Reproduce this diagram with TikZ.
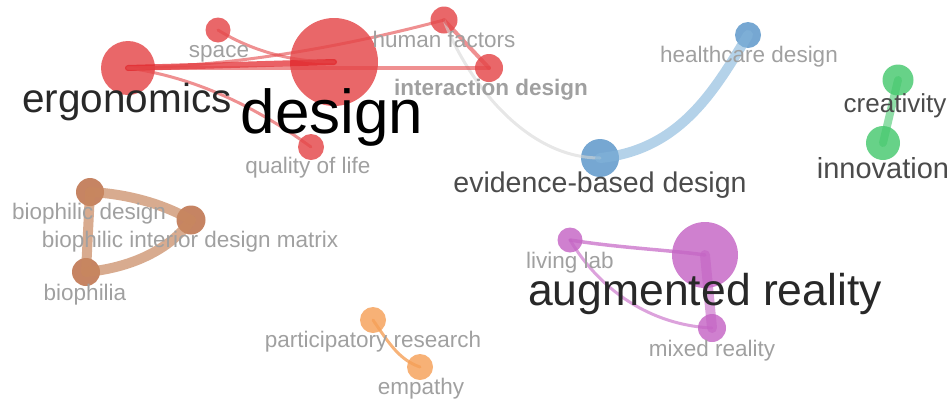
\documentclass[tikz,border=0pt]{standalone}
\usepackage{fontspec}
\setmainfont{Liberation Sans}
\definecolor{cred}{RGB}{228,70,72}
\definecolor{credge}{RGB}{225,30,35}
\definecolor{cblue}{RGB}{88,148,200}
\definecolor{cblueedge}{RGB}{130,180,218}
\definecolor{cgreen}{RGB}{70,200,110}
\definecolor{cbrown}{RGB}{185,105,65}
\definecolor{cbrownedge}{RGB}{200,135,95}
\definecolor{corange}{RGB}{245,160,88}
\definecolor{cpurple}{RGB}{196,100,196}
\definecolor{cgrayedge}{RGB}{215,215,215}
\definecolor{labgray}{RGB}{160,160,160}
\definecolor{labdark}{RGB}{40,40,40}
\definecolor{labmid}{RGB}{75,75,75}
\begin{document}
\begin{tikzpicture}[x=1pt,y=-1pt,
  kw/.style={circle, inner sep=0pt, draw=none, fill opacity=0.82},
  lab/.style={anchor=base, inner sep=0pt, text=labgray, font=\fontsize{22.5}{22.5}\selectfont},
  edge/.style={draw opacity=0.6, line cap=round},
]
\useasboundingbox (0,0) rectangle (952,400);
% ---------- red cluster ----------
\node[kw, fill=cred, minimum size=54pt] (ergo) at (128,68) {};
\node[kw, fill=cred, minimum size=88pt] (design) at (334,62) {};
\node[kw, fill=cred, minimum size=25pt] (space) at (218,30) {};
\node[kw, fill=cred, minimum size=27pt] (human) at (444,20) {};
\node[kw, fill=cred, minimum size=28pt] (inter) at (489,68) {};
\node[kw, fill=cred, minimum size=26pt] (qol) at (311,147) {};
% ---------- blue ----------
\node[kw, fill=cblue, minimum size=26pt] (health) at (748,35) {};
\node[kw, fill=cblue, minimum size=38pt] (ebd) at (600,158) {};
% ---------- green ----------
\node[kw, fill=cgreen, minimum size=31pt] (creat) at (898,80) {};
\node[kw, fill=cgreen, minimum size=34pt] (innov) at (883,143) {};
% ---------- brown ----------
\node[kw, fill=cbrown, minimum size=28pt] (biod) at (90,192) {};
\node[kw, fill=cbrown, minimum size=29pt] (bidm) at (191,220) {};
\node[kw, fill=cbrown, minimum size=28pt] (biop) at (86,272) {};
% ---------- orange ----------
\node[kw, fill=corange, minimum size=26pt] (part) at (373,320) {};
\node[kw, fill=corange, minimum size=26pt] (emp) at (420,367) {};
% ---------- purple ----------
\node[kw, fill=cpurple, minimum size=25pt] (living) at (570,240) {};
\node[kw, fill=cpurple, minimum size=66pt] (ar) at (705,255) {};
\node[kw, fill=cpurple, minimum size=28pt] (mixed) at (712,328) {};

% ---------- edges ----------
\draw[edge, cgrayedge, line width=3pt] (human.center) .. controls (462,70) and (520,158) .. (ebd.center);
\draw[edge, credge, line width=6pt, draw opacity=0.7] (ergo.center) -- (design.center);
\draw[edge, cred, line width=4pt] (ergo.center) -- (inter.center);
\draw[edge, cred, line width=3pt] (ergo.center) .. controls (240,66) and (350,45) .. (human.center);
\draw[edge, cred, line width=3pt] (space.center) .. controls (250,50) and (290,62) .. (design.center);
\draw[edge, cred, line width=3pt] (ergo.center) .. controls (200,78) and (260,110) .. (qol.center);
\draw[edge, cred, line width=4pt] (human.center) -- (inter.center);
\draw[edge, cblueedge, line width=10pt] (ebd.center) .. controls (680,150) and (715,90) .. (health.center);
\draw[edge, cgreen, line width=8pt] (creat.center) -- (innov.center);
\draw[edge, cbrownedge, line width=10pt, draw opacity=0.7] (biod.center) .. controls (130,194) and (165,205) .. (bidm.center);
\draw[edge, cbrownedge, line width=10pt, draw opacity=0.7] (biod.center) -- (biop.center);
\draw[edge, cbrownedge, line width=10pt, draw opacity=0.7] (biop.center) .. controls (130,268) and (170,250) .. (bidm.center);
\draw[edge, corange, line width=3pt, draw opacity=0.8] (part.center) .. controls (390,345) and (400,360) .. (emp.center);
\draw[edge, cpurple, line width=3.5pt, draw opacity=0.7] (living.center) .. controls (620,248) and (670,250) .. (ar.center);
\draw[edge, cpurple, line width=3pt] (living.center) .. controls (600,290) and (650,325) .. (mixed.center);
\draw[edge, cpurple, line width=10pt] (ar.center) -- (mixed.center);

% ---------- labels ----------
\node[lab, text=labdark, font=\fontsize{40.5}{40.5}\selectfont] (lergo) at (127,112) {ergonomics};
\node[lab, text=black, font=\fontsize{62}{62}\selectfont] (ldesign) at (332,133) {design};
\node[lab] (lspace) at (219,57) {space};
\node[lab] (lhuman) at (444,47) {human factors};
\node[lab, font=\bfseries\fontsize{22.5}{22.5}\selectfont] (linter) at (491,95) {interaction design};
\node[lab] (lqol) at (308,173) {quality of life};
\node[lab] (lhealth) at (749,62) {healthcare design};
\node[lab, text=labmid, font=\fontsize{28.5}{28.5}\selectfont] (lebd) at (600,192) {evidence-based design};
\node[lab, text=labmid, font=\fontsize{26}{26}\selectfont] (lcreat) at (895,112) {creativity};
\node[lab, text=labmid, font=\fontsize{29}{29}\selectfont] (linnov) at (883,178) {innovation};
\node[lab] (lbiod) at (89,219) {biophilic design};
\node[lab] (lbidm) at (190,247) {biophilic interior design matrix};
\node[lab] (lbiop) at (85,300) {biophilia};
\node[lab] (lpart) at (373,347) {participatory research};
\node[lab] (lemp) at (421,394) {empathy};
\node[lab] (lliving) at (570,268) {living lab};
\node[lab, text=labdark, font=\fontsize{44.5}{44.5}\selectfont] (lar) at (705,305) {augmented reality};
\node[lab] (lmixed) at (712,356) {mixed reality};
\end{tikzpicture}
\end{document}
